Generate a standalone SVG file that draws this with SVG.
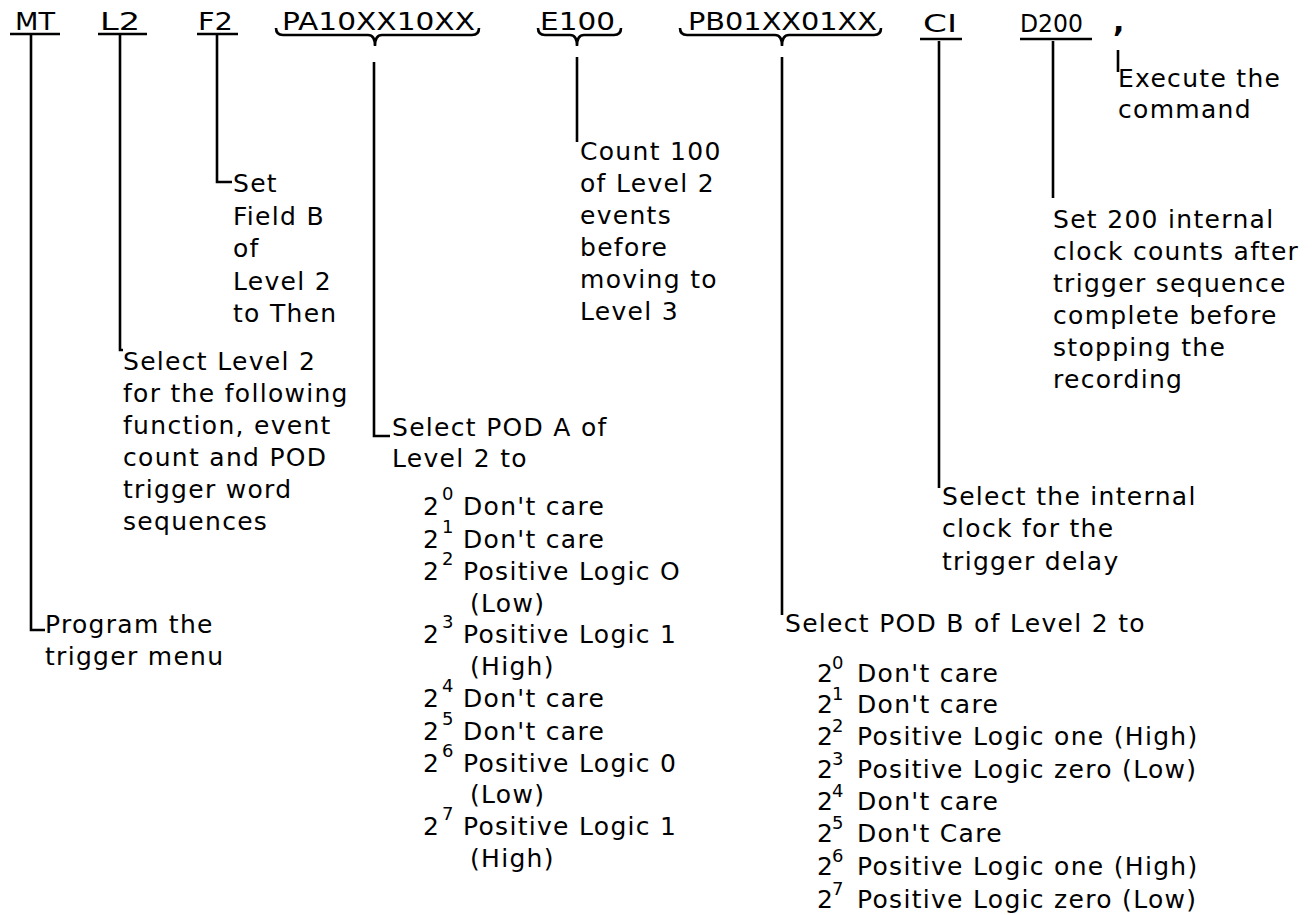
<svg xmlns="http://www.w3.org/2000/svg" width="1314" height="915" viewBox="0 0 1314 915">
<style>
.tok{font-family:"DejaVu Sans","Liberation Sans",sans-serif;font-size:24px;fill:#000}
.t{font-family:"DejaVu Sans","Liberation Sans",sans-serif;font-size:25px;letter-spacing:1.3px;fill:#000}
.s{font-family:"DejaVu Sans","Liberation Sans",sans-serif;font-size:18px;fill:#000}
.ln{fill:none;stroke:#000;stroke-width:2.6}
</style>
<rect width="1314" height="915" fill="#fff"/>
<g id="connectors" class="ln">
<path d="M10,34 H60 M98,34 H147 M197,34 H238 M920,39 H962 M1020,39 H1092"/>
<path d="M276,28 Q276,35 283,35 H368 Q375,35 375,46 Q375,35 382,35 H472 Q479,35 479,28"/>
<path d="M538,28 Q538,35 545,35 H570 Q577,35 577,46 Q577,35 584,35 H614 Q621,35 621,28"/>
<path d="M680,28 Q680,35 687,35 H775 Q782,35 782,46 Q782,35 789,35 H874 Q881,35 881,28"/>
<path d="M31,35 V630 H45"/>
<path d="M120,35 V350 H123"/>
<path d="M217,35 V182 H232"/>
<path d="M374,62 V436 H390"/>
<path d="M577,57 V142"/>
<path d="M782,57 V615"/>
<path d="M939,41 V488"/>
<path d="M1053,41 V198"/>
<path d="M1118,50 V72"/>
</g>
<g id="node-MT">
<text class="tok" x="15" y="30" textLength="40" lengthAdjust="spacingAndGlyphs">MT</text>
<text class="t" x="45" y="633">Program the</text>
<text class="t" x="45" y="665">trigger menu</text>
</g>
<g id="node-L2">
<text class="tok" x="100" y="30" textLength="40" lengthAdjust="spacingAndGlyphs">L2</text>
<text class="t" x="123" y="370">Select Level 2</text>
<text class="t" x="123" y="402">for the following</text>
<text class="t" x="123" y="434">function, event</text>
<text class="t" x="123" y="466">count and POD</text>
<text class="t" x="123" y="498">trigger word</text>
<text class="t" x="123" y="530">sequences</text>
</g>
<g id="node-F2">
<text class="tok" x="198" y="30" textLength="35" lengthAdjust="spacingAndGlyphs">F2</text>
<text class="t" x="233" y="192">Set</text>
<text class="t" x="233" y="224.5">Field B</text>
<text class="t" x="233" y="257">of</text>
<text class="t" x="233" y="289.5">Level 2</text>
<text class="t" x="233" y="322">to Then</text>
</g>
<g id="node-PA">
<text class="tok" x="282" y="30" textLength="193" lengthAdjust="spacingAndGlyphs">PA10XX10XX</text>
<text class="t" x="392" y="436">Select POD A of</text>
<text class="t" x="392" y="467">Level 2 to</text>
<text class="t" x="423" y="515">2</text><text class="s" x="442" y="500">0</text><text class="t" x="463" y="515">Don't care</text>
<text class="t" x="423" y="548">2</text><text class="s" x="442" y="533">1</text><text class="t" x="463" y="548">Don't care</text>
<text class="t" x="423" y="580">2</text><text class="s" x="442" y="565">2</text><text class="t" x="463" y="580">Positive Logic O</text>
<text class="t" x="470" y="612">(Low)</text>
<text class="t" x="423" y="643">2</text><text class="s" x="442" y="628">3</text><text class="t" x="463" y="643">Positive Logic 1</text>
<text class="t" x="470" y="675">(High)</text>
<text class="t" x="423" y="707">2</text><text class="s" x="442" y="692">4</text><text class="t" x="463" y="707">Don't care</text>
<text class="t" x="423" y="740">2</text><text class="s" x="442" y="725">5</text><text class="t" x="463" y="740">Don't care</text>
<text class="t" x="423" y="772">2</text><text class="s" x="442" y="757">6</text><text class="t" x="463" y="772">Positive Logic 0</text>
<text class="t" x="470" y="803">(Low)</text>
<text class="t" x="423" y="835">2</text><text class="s" x="442" y="820">7</text><text class="t" x="463" y="835">Positive Logic 1</text>
<text class="t" x="470" y="867">(High)</text>
</g>
<g id="node-E100">
<text class="tok" x="540" y="30" textLength="75" lengthAdjust="spacingAndGlyphs">E100</text>
<text class="t" x="580" y="160">Count 100</text>
<text class="t" x="580" y="192">of Level 2</text>
<text class="t" x="580" y="224">events</text>
<text class="t" x="580" y="256">before</text>
<text class="t" x="580" y="288">moving to</text>
<text class="t" x="580" y="320">Level 3</text>
</g>
<g id="node-PB">
<text class="tok" x="688" y="30" textLength="189" lengthAdjust="spacingAndGlyphs">PB01XX01XX</text>
<text class="t" x="785" y="632">Select POD B of Level 2 to</text>
<text class="t" x="817" y="682">2</text><text class="s" x="832" y="669">0</text><text class="t" x="857" y="682">Don't care</text>
<text class="t" x="817" y="713">2</text><text class="s" x="832" y="700">1</text><text class="t" x="857" y="713">Don't care</text>
<text class="t" x="817" y="745">2</text><text class="s" x="832" y="732">2</text><text class="t" x="857" y="745">Positive Logic one (High)</text>
<text class="t" x="817" y="778">2</text><text class="s" x="832" y="765">3</text><text class="t" x="857" y="778">Positive Logic zero (Low)</text>
<text class="t" x="817" y="810">2</text><text class="s" x="832" y="797">4</text><text class="t" x="857" y="810">Don't care</text>
<text class="t" x="817" y="842">2</text><text class="s" x="832" y="829">5</text><text class="t" x="857" y="842">Don't Care</text>
<text class="t" x="817" y="875">2</text><text class="s" x="832" y="862">6</text><text class="t" x="857" y="875">Positive Logic one (High)</text>
<text class="t" x="817" y="908">2</text><text class="s" x="832" y="895">7</text><text class="t" x="857" y="908">Positive Logic zero (Low)</text>
</g>
<g id="node-CI">
<text class="tok" x="923" y="32" textLength="34" lengthAdjust="spacingAndGlyphs">CI</text>
<text class="t" x="942" y="505">Select the internal</text>
<text class="t" x="942" y="537">clock for the</text>
<text class="t" x="942" y="570">trigger delay</text>
</g>
<g id="node-D200">
<text class="tok" x="1020" y="32" textLength="63" lengthAdjust="spacingAndGlyphs">D200</text>
<text class="t" x="1053" y="228">Set 200 internal</text>
<text class="t" x="1053" y="260">clock counts after</text>
<text class="t" x="1053" y="292">trigger sequence</text>
<text class="t" x="1053" y="324">complete before</text>
<text class="t" x="1053" y="356">stopping the</text>
<text class="t" x="1053" y="388">recording</text>
</g>
<g id="node-exec">
<text class="tok" x="1113" y="32" style="font-size:30px;font-weight:bold">,</text>
<text class="t" x="1118" y="87">Execute the</text>
<text class="t" x="1118" y="118">command</text>
</g>
</svg>
